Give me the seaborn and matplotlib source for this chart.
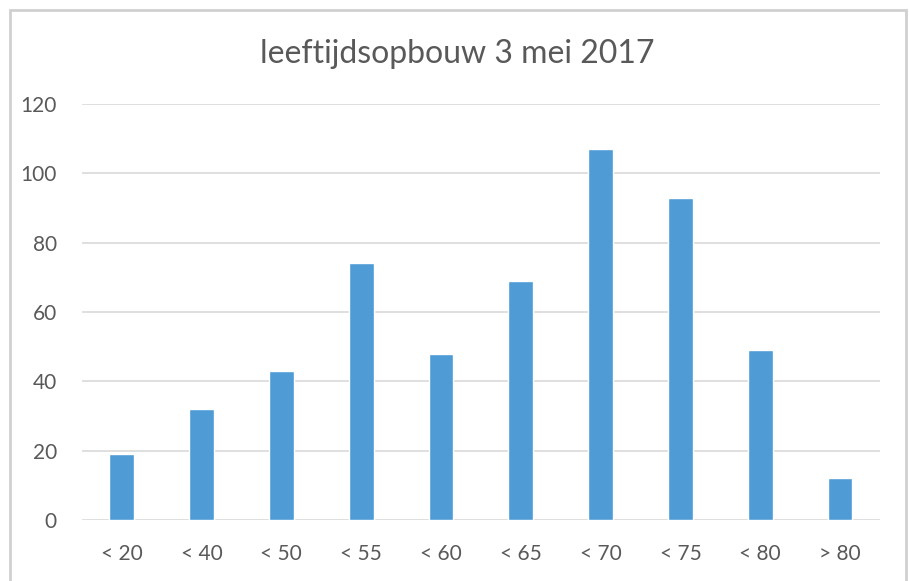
import matplotlib
matplotlib.use("Agg")
import matplotlib.pyplot as plt
from matplotlib.patches import Rectangle
import seaborn as sns
import pandas as pd

# ------------------ Data ------------------
age_groups = ["< 20", "< 40", "< 50", "< 55", "< 60", "< 65", "< 70", "< 75", "< 80", "> 80"]
counts = [19, 32, 43, 74, 48, 69, 107, 93, 49, 12]
y_ticks = [0, 20, 40, 60, 80, 100, 120]

df = pd.DataFrame({"leeftijd": age_groups, "aantal": counts})

# ------------------ Style ------------------
sns.set_theme(style="white")
plt.rcParams["font.family"] = ["Lato", "DejaVu Sans"]
text_color = "#595959"
grid_color = "#d9d9d9"

fig = plt.figure(figsize=(9.09, 5.81), dpi=100)
ax = fig.add_axes([0.090, 0.105, 0.878, 0.716])

sns.barplot(data=df, x="leeftijd", y="aantal", color="#4e9bd5",
            width=0.31, saturation=1, ax=ax, zorder=3)

ax.set_ylim(0, 120)
ax.set_yticks(y_ticks)
ax.yaxis.grid(True, color=grid_color, linewidth=1.2, zorder=0)
ax.set_axisbelow(True)
for s in ax.spines.values():
    s.set_visible(False)
ax.tick_params(axis="both", length=0, labelsize=15, labelcolor=text_color)
ax.tick_params(axis="x", pad=17)
ax.tick_params(axis="y", pad=18)
ax.set_xlabel("")
ax.set_ylabel("")

fig.suptitle("leeftijdsopbouw 3 mei 2017", x=0.503, y=0.907, va="center",
             fontsize=23, color=text_color)

# light frame around the chart
fig.patches.append(Rectangle((10 / 909, -0.02), 896 / 909, 1 - 10 / 581 + 0.02,
                             transform=fig.transFigure, fill=False,
                             edgecolor="#d0d0d0", linewidth=2))

fig.savefig("out.png", dpi=100)
